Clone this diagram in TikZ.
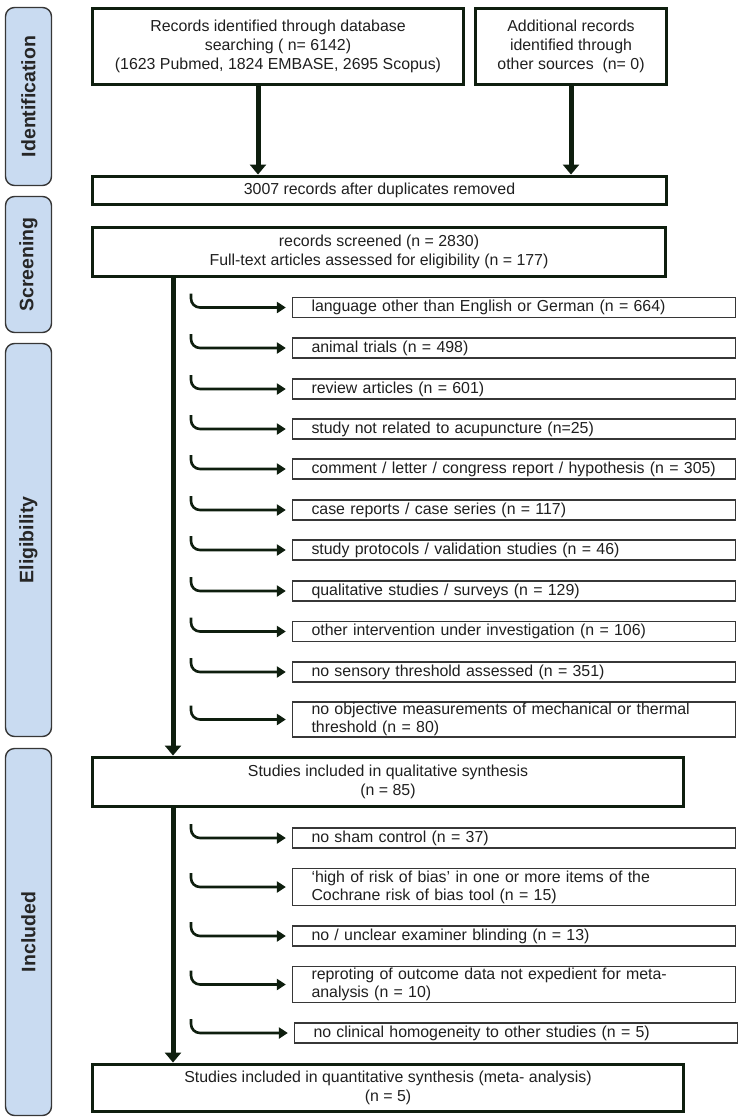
\documentclass[tikz,border=0pt]{standalone}
\usepackage{fontspec}
\setmainfont{Liberation Sans}
\usetikzlibrary{arrows.meta}
\definecolor{framegreen}{RGB}{14,30,14}
\definecolor{phasefill}{RGB}{201,219,241}
\definecolor{phaseline}{RGB}{55,55,55}
\tikzset{phase/.style = {draw=phaseline, line width=1.4pt, fill=phasefill,
                         rounded corners=9pt, rotate=90, minimum height=46pt,
                         inner sep=0pt, text=black!85,
                         font=\fontsize{19.5}{22}\selectfont\bfseries},
         mainbox/.style = {draw=framegreen, line width=3.9pt, inner sep=0pt,
                           align=center, text=black!88,
                           font=\fontsize{15.9}{18.7}\selectfont},
         exclbox/.style = {draw=phaseline, line width=1.3pt, minimum width=443pt,
                           text width=405pt, inner xsep=19pt, inner ysep=0pt,
                           align=left, text=black!88,
                           font=\fontsize{15.9}{18}\selectfont},
         trunk/.style = {draw=framegreen, line width=5pt,
                         -{Triangle[length=10pt,width=16pt]}},
         hook/.style = {draw=framegreen, line width=2.6pt, rounded corners=9pt,
                        shorten >=6pt, -{Triangle[length=9pt,width=11pt]}}}

\begin{document}
\begin{tikzpicture}[x=1pt, y=-1pt]
    \useasboundingbox (0, 0) rectangle (743, 1120);
    % phases on the left
    \node [phase, minimum width=178pt] (ident) at (28.5, 96.5) {Identification};
    \node [phase, minimum width=136pt] (screen) at (28.5, 264.5) {Screening};
    \node [phase, minimum width=393pt] (elig) at (28.5, 540) {Eligibility};
    \node [phase, minimum width=367pt] (incl) at (28.5, 932) {Included};
    % main flow
    \node [mainbox, minimum width=371pt, minimum height=76pt] (recdb) at (278, 46.5)
        {Records identified through database\\ searching ( n= 6142)\\ (1623 Pubmed, 1824 EMBASE, 2695 Scopus)};
    \node [mainbox, minimum width=191pt, minimum height=76pt] (recother) at (571, 46.5)
        {Additional records\\ identified through\\ other sources\ \ (n= 0)};
    \node [mainbox, minimum width=574pt, minimum height=28pt] (dupl) at (379.5, 190.5)
        {3007 records after duplicates removed};
    \node [mainbox, minimum width=573pt, minimum height=49pt] (screened) at (379, 252)
        {records screened (n = 2830)\\ Full-text articles assessed for eligibility (n = 177)};
    \node [mainbox, minimum width=591pt, minimum height=49pt] (quali) at (388, 782)
        {Studies included in qualitative synthesis\\ (n = 85)};
    \node [mainbox, minimum width=591pt, minimum height=47pt] (quanti) at (388, 1088)
        {Studies included in quantitative synthesis (meta- analysis)\\ (n = 5)};
    % exclusions during eligibility
    \node [exclbox, minimum height=20pt] (ex1) at (514, 307.5) {language other than English or German (n = 664)};
    \node [exclbox, minimum height=20pt] (ex2) at (514, 348) {animal trials (n = 498)};
    \node [exclbox, minimum height=20pt] (ex3) at (514, 389) {review articles (n = 601)};
    \node [exclbox, minimum height=20pt] (ex4) at (514, 429) {study not related to acupuncture (n=25)};
    \node [exclbox, minimum height=20pt] (ex5) at (514, 469) {comment / letter / congress report / hypothesis (n = 305)};
    \node [exclbox, minimum height=20pt] (ex6) at (514, 510) {case reports / case series (n = 117)};
    \node [exclbox, minimum height=20pt] (ex7) at (514, 550) {study protocols / validation studies (n = 46)};
    \node [exclbox, minimum height=20pt] (ex8) at (514, 591) {qualitative studies / surveys (n = 129)};
    \node [exclbox, minimum height=20pt] (ex9) at (514, 631.5) {other intervention under investigation (n = 106)};
    \node [exclbox, minimum height=20pt] (ex10) at (514, 672) {no sensory threshold assessed (n = 351)};
    \node [exclbox, minimum height=35pt] (ex11) at (514, 719.5) {no objective measurements of mechanical or thermal\\ threshold (n = 80)};
    % exclusions before meta-analysis
    \node [exclbox, minimum height=20pt] (inc1) at (514, 838) {no sham control (n = 37)};
    \node [exclbox, minimum height=37pt] (inc2) at (514, 887) {‘high of risk of bias’ in one or more items of the\\ Cochrane risk of bias tool (n = 15)};
    \node [exclbox, minimum height=20pt] (inc3) at (514, 936) {no / unclear examiner blinding (n = 13)};
    \node [exclbox, minimum height=36pt] (inc4) at (514, 984.5) {reproting of outcome data not expedient for meta-\\ analysis (n = 10)};
    \node [exclbox, minimum height=20pt] (inc5) at (516, 1033) {no clinical homogeneity to other studies (n = 5)};
    % connectors
    \coordinate (trunkx) at (173, 0);
    \coordinate (hookx) at (191, 0);
    \draw [trunk] ([xshift=-20pt]recdb.south) -- ([xshift=-20pt]recdb.south |- dupl.north);
    \draw [trunk] (recother.south) -- (recother.south |- dupl.north);
    \draw [trunk] (screened.south -| trunkx) -- (quali.north -| trunkx);
    \draw [trunk] (quali.south -| trunkx) -- (quanti.north -| trunkx);
    \draw [hook] ([yshift=14pt]ex1.west -| hookx) |- (ex1.west);
    \draw [hook] ([yshift=14pt]ex2.west -| hookx) |- (ex2.west);
    \draw [hook] ([yshift=14pt]ex3.west -| hookx) |- (ex3.west);
    \draw [hook] ([yshift=14pt]ex4.west -| hookx) |- (ex4.west);
    \draw [hook] ([yshift=14pt]ex5.west -| hookx) |- (ex5.west);
    \draw [hook] ([yshift=14pt]ex6.west -| hookx) |- (ex6.west);
    \draw [hook] ([yshift=14pt]ex7.west -| hookx) |- (ex7.west);
    \draw [hook] ([yshift=14pt]ex8.west -| hookx) |- (ex8.west);
    \draw [hook] ([yshift=14pt]ex9.west -| hookx) |- (ex9.west);
    \draw [hook] ([yshift=14pt]ex10.west -| hookx) |- (ex10.west);
    \draw [hook] ([yshift=14pt]ex11.west -| hookx) |- (ex11.west);
    \draw [hook] ([yshift=14pt]inc1.west -| hookx) |- (inc1.west);
    \draw [hook] ([yshift=14pt]inc2.west -| hookx) |- (inc2.west);
    \draw [hook] ([yshift=14pt]inc3.west -| hookx) |- (inc3.west);
    \draw [hook] ([yshift=14pt]inc4.west -| hookx) |- (inc4.west);
    \draw [hook] ([yshift=14pt]inc5.west -| hookx) |- (inc5.west);
\end{tikzpicture}
\end{document}
